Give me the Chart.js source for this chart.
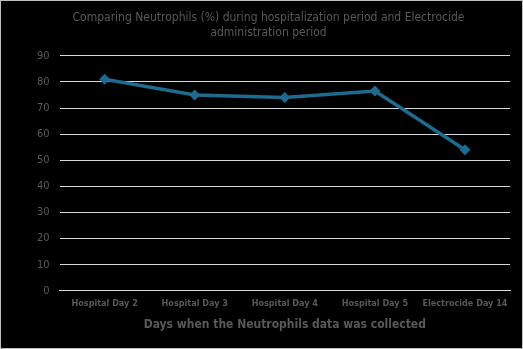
<!DOCTYPE html>
<html><head><meta charset="utf-8">
<script src="https://cdn.jsdelivr.net/npm/chart.js@4"></script>
<style>
html,body{margin:0;padding:0;background:#000;}
#wrap{position:relative;width:521px;height:347px;border:1px solid #bfbfbf;background:#000;}
canvas{display:block;}
</style></head>
<body><div id="wrap"><canvas id="c" width="521" height="347"></canvas></div>
<script>
const categories = ["Hospital Day 2","Hospital Day 3","Hospital Day 4","Hospital Day 5","Electrocide Day 14"];
const neutrophils = [81, 75, 74, 76.5, 54];
const titleLines = ["Comparing Neutrophils (%) during hospitalization period and Electrocide","administration period"];
const xTitle = "Days when the Neutrophils data was collected";
const FONT = "'DejaVu Sans Condensed',sans-serif";
new Chart(document.getElementById('c'), {
  type: 'line',
  data: { labels: categories, datasets: [{
    data: neutrophils, borderColor: '#1f6b8f', backgroundColor: '#1f6b8f',
    borderWidth: 3.5, pointRadius: 3, pointStyle: 'rectRot', tension: 0
  }]},
  options: {
    responsive: false, animation: false,
    layout: { padding: { left: 26, right: 12, top: 6, bottom: 12 } },
    plugins: {
      legend: { display: false }, tooltip: { enabled: false },
      title: { display: true, text: titleLines, color: '#595959',
        font: { family: FONT, size: 12, weight: 'normal' }, padding: { top: 4, bottom: 16 }, lineHeight: 1.2 }
    },
    scales: {
      y: { min: 0, max: 90, ticks: { stepSize: 10, color: '#595959', font: { family: FONT, size: 11 }, padding: 10 },
        grid: { color: '#d9d9d9', lineWidth: 1, drawTicks: false }, border: { display: false } },
      x: { offset: true, ticks: { color: '#595959', font: { family: FONT, size: 9, weight: 'bold' }, maxRotation: 0, autoSkip: false, padding: 7 },
        grid: { display: false, drawTicks: false }, border: { color: '#d9d9d9', width: 1 },
        title: { display: true, text: xTitle, color: '#595959', font: { family: FONT, size: 12, weight: 'bold' }, padding: { top: 2 } } }
    }
  }
});
</script></body></html>
